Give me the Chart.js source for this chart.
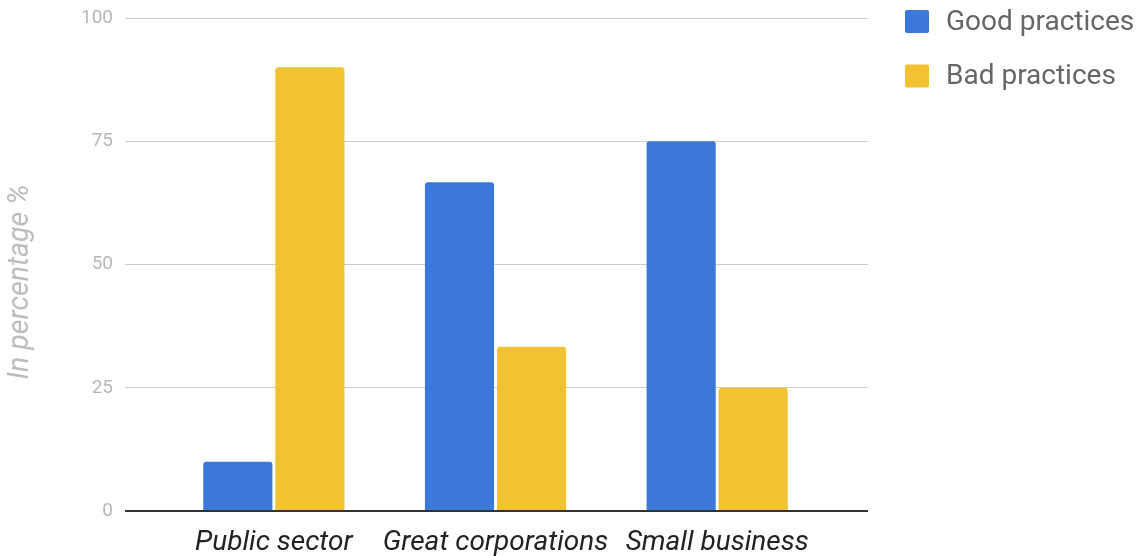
<!DOCTYPE html>
<html>
<head>
<meta charset="utf-8">
<script src="https://cdn.jsdelivr.net/npm/chart.js@4.4.1/dist/chart.umd.min.js"></script>
<style>
  html, body { margin: 0; padding: 0; background: #fff; }
  #wrap { width: 1140px; height: 556px; }
</style>
</head>
<body>
<div id="wrap"><canvas id="barChart"></canvas></div>
<script>
// data
const categories = ["Public sector", "Great corporations", "Small business"];
const goodPractices = [10, 66.7, 75];
const badPractices = [90, 33.3, 25];
const yTicks = [0, 25, 50, 75, 100];

// zero line darker than the other grid lines
function gridColor(ctx) {
  return ctx.tick && ctx.tick.value === 0 ? "#333333" : "#cccccc";
}
function gridWidth(ctx) {
  return ctx.tick && ctx.tick.value === 0 ? 2 : 1;
}
function setTicks(scale) {
  scale.ticks = yTicks.map(v => ({ value: v }));
}

// legend drawn by hand at the top right, from the datasets
const legendPlugin = {
  id: "rightLegend",
  afterDraw(chart) {
    const c = chart.ctx;
    c.save();
    c.font = "28px Roboto";
    c.textBaseline = "middle";
    chart.data.datasets.forEach((ds, i) => {
      const y = 21.5 + i * 54.5;
      c.fillStyle = ds.backgroundColor;
      c.beginPath();
      c.roundRect(905, y - 11.5, 24, 23, 2);
      c.fill();
      c.fillStyle = "#666666";
      c.fillText(ds.label, 946, y + 1);
    });
    c.restore();
  }
};

const ctx = document.getElementById("barChart").getContext("2d");
new Chart(ctx, {
  type: "bar",
  data: {
    labels: categories,
    datasets: [
      {
        label: "Good practices",
        data: goodPractices,
        backgroundColor: "#3c78d8",
        borderRadius: 3,
        barPercentage: 0.96,
        categoryPercentage: 0.65
      },
      {
        label: "Bad practices",
        data: badPractices,
        backgroundColor: "#f1c232",
        borderRadius: 3,
        barPercentage: 0.96,
        categoryPercentage: 0.65
      }
    ]
  },
  plugins: [legendPlugin],
  options: {
    responsive: true,
    maintainAspectRatio: false,
    animation: false,
    layout: { padding: { top: 0, right: 272, bottom: -19.8, left: 0 } },
    scales: {
      x: {
        grid: { display: false, drawTicks: false },
        border: { display: false },
        ticks: {
          padding: 17,
          autoSkip: false,
          maxRotation: 0,
          minRotation: 0,
          color: "#222222",
          font: { family: "Roboto", size: 28, style: "italic", lineHeight: 1.1 }
        }
      },
      y: {
        min: 0,
        max: 100,
        afterBuildTicks: setTicks,
        grid: { color: gridColor, lineWidth: gridWidth, tickLength: 38 },
        border: { display: false },
        ticks: {
          padding: 12,
          color: "#b7b7b7",
          font: { family: "Roboto", size: 19, lineHeight: "12px" }
        },
        title: {
          display: true,
          text: "In percentage %     ",
          color: "#bdbdbd",
          padding: { top: 3.9, bottom: 30.9 },
          font: { family: "Roboto", size: 28.5, style: "italic", lineHeight: 1.2 }
        }
      },
      // right side: only to carry the grid lines past the last bar group
      y2: {
        position: "right",
        min: 0,
        max: 100,
        afterBuildTicks: setTicks,
        grid: { drawOnChartArea: false, color: gridColor, lineWidth: gridWidth, tickLength: 40 },
        border: { display: false },
        ticks: { display: false }
      }
    },
    plugins: {
      legend: { display: false },
      tooltip: { enabled: false }
    }
  }
});
</script>
</body>
</html>
